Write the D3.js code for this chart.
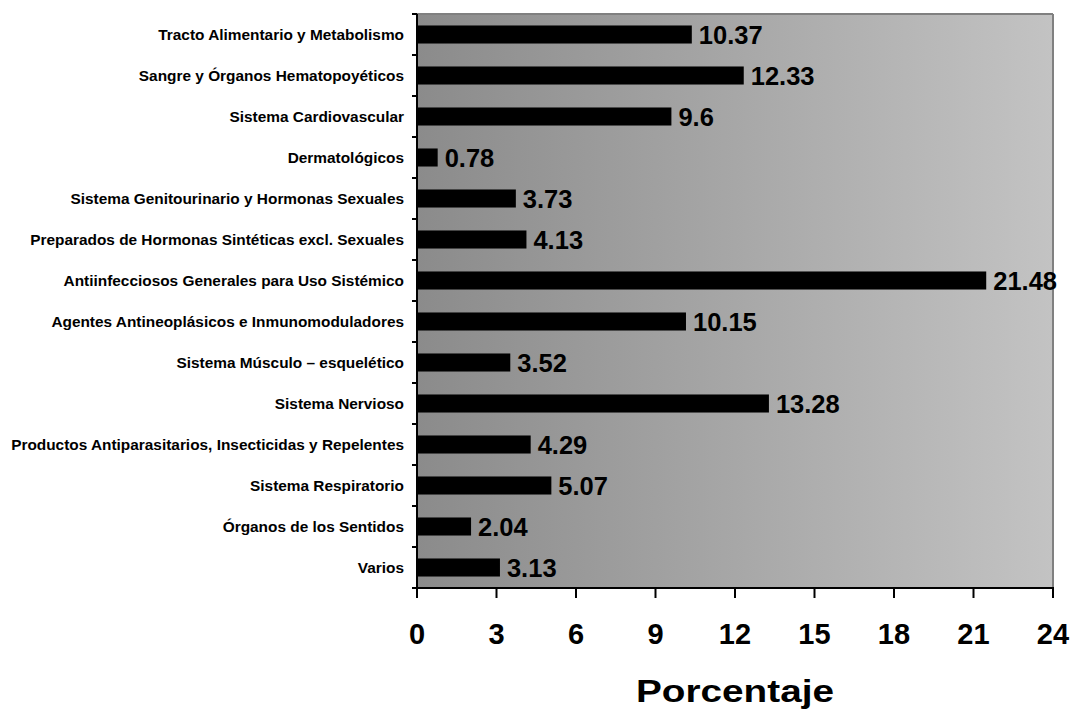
<!DOCTYPE html>
<html>
<head>
<meta charset="utf-8">
<script src="https://cdn.jsdelivr.net/npm/d3@7"></script>
<style>
  html, body { margin: 0; padding: 0; background: #ffffff; }
  svg { display: block; }
  text { font-family: Arial, "Liberation Sans", sans-serif; font-weight: bold; fill: #000; }
</style>
</head>
<body>
<svg id="chart" width="1072" height="711"></svg>
<script>
const categories = [
  "Tracto Alimentario y Metabolismo",
  "Sangre y Órganos Hematopoyéticos",
  "Sistema Cardiovascular",
  "Dermatológicos",
  "Sistema Genitourinario y Hormonas Sexuales",
  "Preparados de Hormonas Sintéticas excl. Sexuales",
  "Antiinfecciosos Generales para Uso Sistémico",
  "Agentes Antineoplásicos e Inmunomoduladores",
  "Sistema Músculo – esquelético",
  "Sistema Nervioso",
  "Productos Antiparasitarios, Insecticidas y Repelentes",
  "Sistema Respiratorio",
  "Órganos de los Sentidos",
  "Varios"
];
const values = [10.37, 12.33, 9.6, 0.78, 3.73, 4.13, 21.48, 10.15, 3.52, 13.28, 4.29, 5.07, 2.04, 3.13];
const xTicks = [0, 3, 6, 9, 12, 15, 18, 21, 24];
const axisTitle = "Porcentaje";

const svg = d3.select("#chart");
const pLeft = 417, pRight = 1053, pTop = 14, pBottom = 588;

const x = d3.scaleLinear().domain([0, 24]).range([pLeft, pRight]);
const y = d3.scaleBand().domain(categories).range([pTop, pBottom]).paddingInner(0.56).paddingOuter(0.28);
const yEdges = d3.scaleLinear().domain([0, categories.length]).range([pTop, pBottom]);

const defs = svg.append("defs");
const grad = defs.append("linearGradient").attr("id", "bg").attr("x1", "0%").attr("x2", "100%").attr("y1", "0%").attr("y2", "0%");
grad.append("stop").attr("offset", "0%").attr("stop-color", "#8b8b8b");
grad.append("stop").attr("offset", "100%").attr("stop-color", "#c3c3c3");

svg.append("rect").attr("x", pLeft).attr("y", pTop).attr("width", pRight - pLeft).attr("height", pBottom - pTop).attr("fill", "url(#bg)");

// top and right border
svg.append("line").attr("x1", pLeft).attr("x2", pRight).attr("y1", pTop).attr("y2", pTop).attr("stroke", "#808080").attr("stroke-width", 2);
svg.append("line").attr("x1", pRight).attr("x2", pRight).attr("y1", pTop).attr("y2", pBottom).attr("stroke", "#808080").attr("stroke-width", 2);

// bars
svg.selectAll("rect.bar").data(values).enter().append("rect")
  .attr("class", "bar")
  .attr("x", x(0))
  .attr("y", (d, i) => y(categories[i]))
  .attr("width", d => x(d) - x(0))
  .attr("height", y.bandwidth())
  .attr("fill", "#000");

// value labels
svg.selectAll("text.val").data(values).enter().append("text")
  .attr("class", "val")
  .attr("x", d => x(d) + 7)
  .attr("y", (d, i) => y(categories[i]) + y.bandwidth() / 2 + 9)
  .style("font-size", "25.5px")
  .text(d => d);

// y axis line and ticks
svg.append("line").attr("x1", pLeft).attr("x2", pLeft).attr("y1", pTop).attr("y2", pBottom).attr("stroke", "#000").attr("stroke-width", 2);
svg.selectAll("line.ytick").data(d3.range(categories.length + 1)).enter().append("line")
  .attr("class", "ytick")
  .attr("x1", pLeft - 5).attr("x2", pLeft)
  .attr("y1", d => yEdges(d)).attr("y2", d => yEdges(d))
  .attr("stroke", "#000").attr("stroke-width", 2);

// y labels
svg.selectAll("text.ylab").data(categories).enter().append("text")
  .attr("class", "ylab")
  .attr("x", 404)
  .attr("y", d => y(d) + y.bandwidth() / 2 + 5.3)
  .attr("text-anchor", "end")
  .style("font-size", "15.4px")
  .text(d => d);

// x axis
svg.append("line").attr("x1", pLeft - 1).attr("x2", pRight + 1).attr("y1", pBottom).attr("y2", pBottom).attr("stroke", "#000").attr("stroke-width", 2);
svg.selectAll("line.xtick").data(xTicks).enter().append("line")
  .attr("class", "xtick")
  .attr("x1", d => x(d)).attr("x2", d => x(d))
  .attr("y1", pBottom).attr("y2", pBottom + 10)
  .attr("stroke", "#000").attr("stroke-width", 2);
svg.selectAll("text.xlab").data(xTicks).enter().append("text")
  .attr("class", "xlab")
  .attr("x", d => x(d))
  .attr("y", 644)
  .attr("text-anchor", "middle")
  .style("font-size", "29px")
  .text(d => d);

svg.append("text")
  .attr("x", (pLeft + pRight) / 2)
  .attr("y", 701.5)
  .attr("text-anchor", "middle")
  .attr("textLength", 198)
  .attr("lengthAdjust", "spacingAndGlyphs")
  .style("font-size", "31px")
  .text(axisTitle);
</script>
</body>
</html>
